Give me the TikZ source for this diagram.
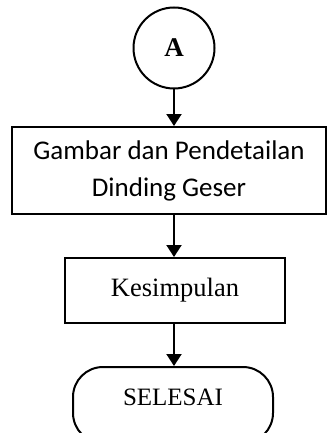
\documentclass[tikz,border=0pt]{standalone}
\usepackage{fontspec}
\setmainfont{Liberation Serif}
\newfontfamily\calibri{Carlito}
\usetikzlibrary{arrows.meta,positioning,calc}

\begin{document}
\begin{tikzpicture}[x=1pt,y=-1pt,line width=2pt,
  conn/.style={circle,draw,minimum size=81pt,inner sep=0pt,font=\fontsize{27}{32}\selectfont\bfseries},
  procbox/.style={rectangle,draw,inner sep=0pt,align=center},
  termbox/.style={rectangle,draw,rounded corners=30pt,inner sep=0pt},
  flow/.style={-{Triangle[width=15pt,length=12pt]}}]
\useasboundingbox (0,0) rectangle (327,433);
\node[conn] (a) at (174,48) {A};
\node[procbox,minimum width=314pt,minimum height=87pt,font=\calibri\fontsize{27}{37}\selectfont] (g) at (169,170.5) {Gambar dan Pendetailan\\Dinding Geser};
\node[procbox,minimum width=220pt,minimum height=65pt,font=\fontsize{26.5}{32}\selectfont] (k) at (175,290.5) {Kesimpulan};
\node[termbox,minimum width=200pt,minimum height=76pt,text height=17pt,text depth=16pt,font=\fontsize{25}{30}\selectfont] (s) at (173,405) {SELESAI};
\draw[flow] (a) -- (a |- g.north);
\draw[flow] (a |- g.south) -- (a |- k.north);
\draw[flow] (a |- k.south) -- (a |- s.north);
\end{tikzpicture}
\end{document}
